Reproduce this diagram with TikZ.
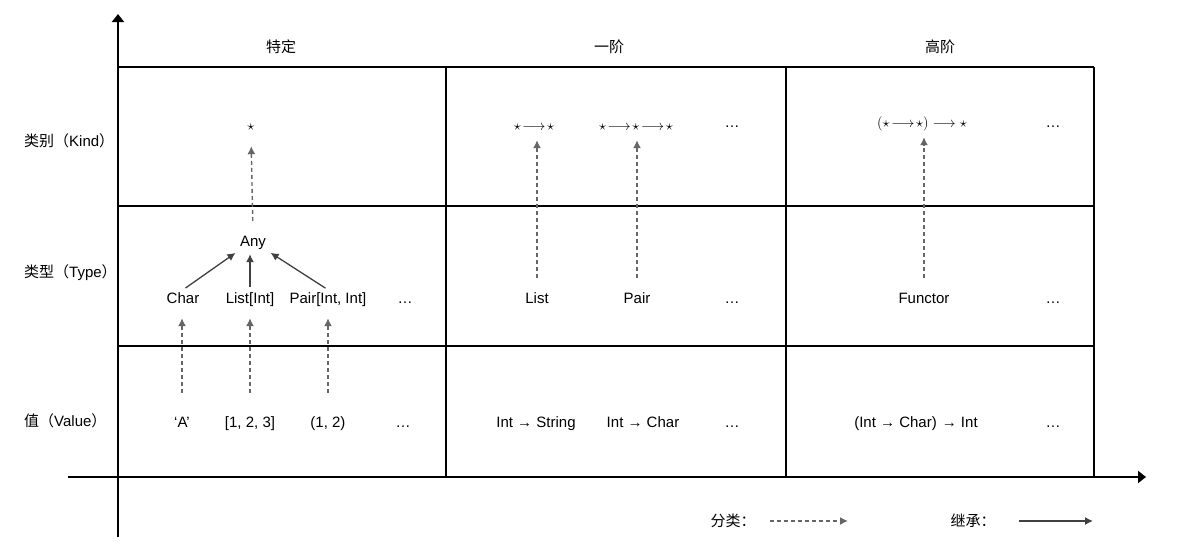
\documentclass[tikz,border=0pt]{standalone}
\usepackage{fontspec}
\setmainfont{Liberation Sans}
\newfontfamily\cjk{Noto Sans CJK SC}
\usepackage{tikz}
\usetikzlibrary{arrows.meta}

\begin{document}
\begin{tikzpicture}[x=1pt,y=-1pt,
	every node/.style={font=\fontsize{15}{17}\selectfont,inner sep=2pt,text height=11pt,text depth=3pt},
	kindtext/.style={font=\fontsize{14}{16}\selectfont},
	classify/.style={-{Latex[length=8pt,width=8pt]},black!60,line width=1.4pt,dash pattern=on 4pt off 3pt,shorten <=12pt,shorten >=11pt},
	inherit/.style={-{Latex[length=8pt,width=8pt]},black!75,line width=1.3pt,shorten <=3pt,shorten >=3pt},
	cell/.style={line width=1.5pt},
	axis/.style={-{Triangle[length=8pt,width=12pt]},line width=2pt}]
\useasboundingbox (0,0) rectangle (1200,546);
% axes and table
\draw[axis] (118,537) -- (118,14);
\draw[axis] (68,477) -- (1146,477);
\draw[cell] (118,67) -- (1094,67) (118,206) -- (1094,206) (118,346) -- (1094,346);
\draw[cell] (446,67) -- (446,477) (786,67) -- (786,477) (1094,67) -- (1094,477);
% column and row headings
\node (spec) at (281,48) {\cjk 特定};
\node (first) at (609,48) {\cjk 一阶};
\node (higher) at (940,48) {\cjk 高阶};
\node[anchor=west] (kind) at (22,142) {{\cjk 类别（}Kind{\cjk ）}};
\node[anchor=west] (type) at (22,273) {{\cjk 类型（}Type{\cjk ）}};
\node[anchor=west] (value) at (22,422) {{\cjk 值（}Value{\cjk ）}};
% kinds
\node[kindtext] (k0) at (251,126) {$\star$};
\node[kindtext] (k1) at (534,126) {$\star\!\longrightarrow\!\star$};
\node[kindtext] (k2) at (636,126) {$\star\!\longrightarrow\!\star\!\longrightarrow\!\star$};
\node (k3) at (732,123) {\ldots};
\node[kindtext] (k4) at (922,123) {$(\star\!\longrightarrow\!\star)\longrightarrow\star$};
\node (k5) at (1053,123) {\ldots};
% types
\node (any) at (253,242) {Any};
\foreach \n/\x/\t in {char/183/Char, list/250/List[Int], pair/328/{Pair[Int, Int]}, tdots/405/\ldots,
	listc/537/List, pairc/637/Pair, tdots2/732/\ldots, functor/924/Functor, tdots3/1053/\ldots}{
	\node (\n) at (\x,299) {\t};
}
% values
\foreach \n/\x/\t in {va/182/‘A’, vlist/250/{[1, 2, 3]}, vpair/328/{(1, 2)}, vdots/403/\ldots,
	vf1/536/Int → String, vf2/643/Int → Char, vdots2/732/\ldots,
	vh/916/{(Int → Char)\,\,→ Int}, vdots3/1053/\ldots}{
	\node (\n) at (\x,423) {\t};
}
% classification
\draw[classify] (any.north) -- (k0.south);
\draw[classify,shorten >=5pt] (listc.north) -- (listc.north |- k1.south);
\draw[classify,shorten >=5pt] (pairc.north) -- (pairc.north |- k2.south);
\draw[classify,shorten >=5pt] (functor.north) -- (functor.north |- k4.south);
\draw[classify,shorten <=21pt,shorten >=10pt] (va.north) -- (va.north |- char.south);
\draw[classify,shorten <=21pt,shorten >=10pt] (vlist.north) -- (list.south);
\draw[classify,shorten <=21pt,shorten >=10pt] (vpair.north) -- (pair.south);
% inheritance
\draw[inherit] (char.north) -- (any.south west);
\draw[inherit] (list.north) -- (list.north |- any.south);
\draw[inherit] (pair.north) -- (any.south east);
% legend
\node (lgcls) at (733,522) {\cjk 分类：};
\node (lginh) at (973,522) {\cjk 继承：};
\coordinate (lgc) at (848,521);
\coordinate (lgi) at (1093,521);
\draw[classify,shorten <=12pt,shorten >=0pt] (lgcls.east |- lgc) -- (lgc);
\draw[inherit,shorten <=21pt,shorten >=0pt] (lginh.east |- lgi) -- (lgi);
\end{tikzpicture}
\end{document}
